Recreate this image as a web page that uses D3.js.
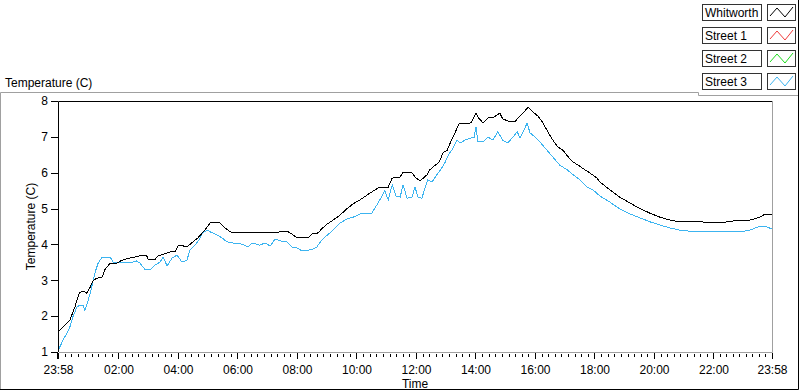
<!DOCTYPE html>
<html lang="en">
<head>
<meta charset="UTF-8">
<title>Temperature (C)</title>
<script src="https://d3js.org/d3.v7.min.js"></script>
<style>
  body { margin: 0; background: #fff; }
  text { font-family: "Liberation Sans", Arial, sans-serif; font-size: 12px; fill: #000; }
  .trace { fill: none; stroke-width: 1px; shape-rendering: crispEdges; }
</style>
</head>
<body>
<div id="chart"></div>
<script>
// minutes after 23:58, temperature in C
const whitworth = [
  [0,1.56],[10,1.7],[24,1.89],[34,2.25],[40,2.53],[44,2.67],[54,2.68],[58,2.64],[65,2.81],[71,3.0],
  [79,3.06],[89,3.09],[95,3.31],[99,3.37],[105,3.48],[119,3.48],[129,3.56],[145,3.62],[165,3.68],[179,3.68],
  [182,3.59],[196,3.59],[202,3.68],[226,3.79],[236,3.79],[242,3.96],[252,3.96],[260,3.93],[272,4.07],[282,4.18],
  [296,4.4],[307,4.6],[327,4.6],[337,4.46],[347,4.35],[357,4.32],[401,4.32],[442,4.32],[448,4.37],[462,4.37],
  [472,4.29],[482,4.18],[504,4.18],[512,4.29],[524,4.32],[534,4.46],[543,4.57],[555,4.68],[569,4.82],[583,5.0],
  [595,5.13],[609,5.24],[629,5.43],[649,5.6],[666,5.6],[674,5.85],[690,5.88],[696,6.02],[714,6.0],[720,5.88],
  [730,5.77],[744,5.94],[750,6.08],[756,6.16],[764,6.24],[770,6.33],[776,6.55],[785,6.63],[791,6.83],[797,7.0],
  [805,7.25],[809,7.36],[833,7.39],[843,7.66],[847,7.55],[857,7.39],[867,7.53],[877,7.53],[891,7.66],[897,7.5],
  [912,7.42],[922,7.42],[928,7.53],[938,7.66],[948,7.83],[958,7.69],[968,7.58],[978,7.39],[988,7.14],[998,6.91],
  [1008,6.72],[1018,6.63],[1029,6.44],[1039,6.3],[1049,6.21],[1063,6.08],[1073,5.99],[1087,5.85],[1093,5.74],[1113,5.52],
  [1133,5.32],[1154,5.15],[1174,5.0],[1194,4.87],[1214,4.76],[1234,4.68],[1254,4.63],[1295,4.63],[1335,4.6],[1375,4.68],
  [1396,4.68],[1416,4.76],[1426,4.85],[1440,4.82]
];

const street3 = [
  [0,1.03],[10,1.33],[18,1.53],[24,1.7],[30,1.98],[38,2.25],[44,2.31],[50,2.31],[54,2.17],[58,2.31],
  [65,2.64],[71,3.0],[75,3.23],[81,3.48],[89,3.65],[99,3.62],[105,3.65],[111,3.51],[121,3.48],[135,3.51],
  [145,3.48],[159,3.54],[165,3.48],[175,3.31],[186,3.29],[196,3.43],[206,3.51],[212,3.65],[220,3.4],[230,3.62],
  [240,3.7],[250,3.51],[260,3.56],[266,3.84],[276,3.98],[284,4.12],[292,4.32],[301,4.4],[307,4.35],[321,4.26],
  [331,4.18],[341,4.07],[353,4.04],[371,4.01],[383,3.93],[391,4.04],[407,3.98],[417,4.04],[428,3.96],[438,4.15],
  [448,4.1],[462,4.07],[472,3.93],[482,3.9],[492,3.82],[504,3.84],[514,3.87],[522,3.93],[532,4.12],[543,4.26],
  [555,4.4],[569,4.6],[583,4.71],[595,4.76],[613,4.87],[633,4.87],[643,5.1],[649,5.24],[659,5.5],[666,5.24],
  [674,5.66],[682,5.35],[690,5.32],[696,5.66],[704,5.29],[714,5.32],[720,5.6],[726,5.32],[734,5.29],[740,5.57],
  [746,5.8],[754,5.74],[764,5.94],[774,6.13],[781,6.3],[787,6.49],[797,6.69],[805,6.91],[811,6.83],[821,6.91],
  [833,6.97],[839,6.97],[843,7.27],[847,6.86],[857,6.86],[867,7.0],[877,6.91],[887,7.14],[897,6.91],[907,6.83],
  [918,7.0],[926,7.14],[932,6.97],[942,7.25],[946,7.39],[952,7.11],[962,7.0],[972,6.86],[986,6.63],[998,6.44],
  [1012,6.21],[1027,6.08],[1039,5.94],[1053,5.8],[1067,5.6],[1079,5.52],[1093,5.35],[1113,5.18],[1133,4.99],[1154,4.85],
  [1174,4.74],[1194,4.63],[1214,4.54],[1234,4.46],[1254,4.4],[1274,4.37],[1315,4.35],[1355,4.37],[1375,4.35],[1396,4.4],
  [1416,4.51],[1426,4.51],[1440,4.43]
];

const timeTicks = [0, 122, 242, 362, 482, 602, 722, 842, 962, 1082, 1202, 1322, 1440];
const timeLabels = ["23:58","02:00","04:00","06:00","08:00","10:00","12:00","14:00","16:00","18:00","20:00","22:00","23:58"];
const tempTicks = [1, 2, 3, 4, 5, 6, 7, 8];

const legendNames = ["Whitworth", "Street 1", "Street 2", "Street 3"];
const legendColors = ["#000000", "#f03c3c", "#1edc1e", "#3cb4f0"];

const width = 800, height = 392;
const plot = { left: 58, top: 101, right: 772, bottom: 352 };

const svg = d3.select("#chart").append("svg")
  .attr("width", width)
  .attr("height", height);

svg.append("rect").attr("width", width).attr("height", height).attr("fill", "#fff");

const x = d3.scaleLinear().domain([0, 1440]).range([plot.left, plot.right]);
const y = d3.scaleLinear().domain([1, 8]).range([plot.bottom, plot.top]);

// outer frame
svg.append("path")
  .attr("d", "M0.5,390 V92.5 H698.5 V95.5 H798")
  .attr("fill", "none").attr("stroke", "#a0a0a0");
svg.append("path")
  .attr("d", "M0,389.5 H798.5 V0")
  .attr("fill", "none").attr("stroke", "#000");

// title over the plot
svg.append("text").attr("x", 5).attr("y", 87).text("Temperature (C)");

// plot area frame
svg.append("path")
  .attr("d", `M${plot.left + 0.5},${plot.bottom} V${plot.top + 0.5} H${plot.right}`)
  .attr("fill", "none").attr("stroke", "#000");
svg.append("path")
  .attr("d", `M${plot.left + 1},${plot.bottom + 0.5} H${plot.right + 0.5} V${plot.top}`)
  .attr("fill", "none").attr("stroke", "#a0a0a0");

// y axis
const yAxis = svg.append("g").attr("transform", `translate(${plot.left},0)`)
  .call(d3.axisLeft(y).tickValues(tempTicks).tickFormat(d3.format("d")).tickSize(7).tickPadding(3));
yAxis.select(".domain").remove();
yAxis.selectAll("line").attr("stroke", "#000").attr("shape-rendering", "crispEdges");
yAxis.selectAll("text").style("font-size", "12px").attr("fill", "#000");
yAxis.attr("font-family", null);

// x axis minor ticks
const minor = [];
for (let i = 0; i < timeTicks.length - 1; i++) {
  const a = timeTicks[i], b = timeTicks[i + 1];
  const n = 9;
  for (let k = 1; k < n; k++) minor.push(a + (b - a) * k / n);
}
svg.append("g").selectAll("line").data(minor).join("line")
  .attr("x1", d => Math.round(x(d)) + 0.5).attr("x2", d => Math.round(x(d)) + 0.5)
  .attr("y1", plot.bottom + 2).attr("y2", plot.bottom + 5)
  .attr("stroke", "#000");

const xAxis = svg.append("g").attr("transform", `translate(0,${plot.bottom + 1})`)
  .call(d3.axisBottom(x).tickValues(timeTicks).tickFormat((d, i) => timeLabels[i]).tickSize(6).tickPadding(6));
xAxis.select(".domain").remove();
xAxis.selectAll("line").attr("stroke", "#000").attr("shape-rendering", "crispEdges");
xAxis.selectAll("text").style("font-size", "12px").attr("fill", "#000");
xAxis.attr("font-family", null);
svg.append("line")
  .attr("x1", plot.left - 0.5).attr("x2", plot.left - 0.5)
  .attr("y1", plot.bottom + 1).attr("y2", plot.bottom + 7).attr("stroke", "#000");

// axis titles
svg.append("text").attr("x", (plot.left + plot.right) / 2).attr("y", 388)
  .attr("text-anchor", "middle").text("Time");
svg.append("text")
  .attr("transform", `translate(35,${(plot.top + plot.bottom) / 2}) rotate(-90)`)
  .attr("text-anchor", "middle").attr("fill", "#400000").text("Temperature (C)");

// traces
const line = d3.line().x(d => x(d[0])).y(d => y(d[1]));
const clip = svg.append("clipPath").attr("id", "clip").append("rect")
  .attr("x", plot.left + 1).attr("y", plot.top + 1)
  .attr("width", plot.right - plot.left - 1).attr("height", plot.bottom - plot.top - 1);

const traces = svg.append("g").attr("clip-path", "url(#clip)");
traces.append("path").datum(street3).attr("class", "trace")
  .attr("stroke", legendColors[3]).attr("d", line);
traces.append("path").datum(whitworth).attr("class", "trace")
  .attr("stroke", legendColors[0]).attr("d", line);

// legend
const legend = svg.append("g").selectAll("g").data(legendNames).join("g")
  .attr("transform", (d, i) => `translate(702,${4 + i * 23})`);
legend.append("rect").attr("x", 0.5).attr("y", 0.5).attr("width", 59).attr("height", 16)
  .attr("fill", "#fff").attr("stroke", "#333");
legend.append("text").attr("x", 3).attr("y", 13).text(d => d);
legend.append("rect").attr("x", 65.5).attr("y", 0.5).attr("width", 28).attr("height", 16)
  .attr("fill", "#fff").attr("stroke", "#333");
legend.append("path")
  .attr("d", "M68,12 L75,4 L83,13 L91,3")
  .attr("fill", "none").attr("stroke", (d, i) => legendColors[i]);
</script>
</body>
</html>
